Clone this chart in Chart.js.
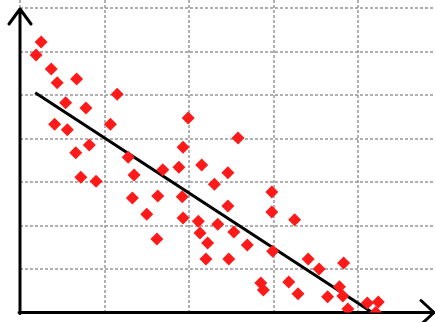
<!DOCTYPE html>
<html>
<head>
<meta charset="utf-8">
<script src="https://cdn.jsdelivr.net/npm/chart.js@4/dist/chart.umd.min.js"></script>
<style>
  html, body { margin: 0; padding: 0; background: #fff; }
  canvas { display: block; }
</style>
</head>
<body>
<canvas id="c" width="435" height="322"></canvas>
<script>
// scatter values (grid units)
const xs = [0.25, 0.19, 0.37, 0.44, 0.67, 1.15, 0.54, 0.78, 0.41, 0.56,
            1.07, 1.99, 0.82, 0.66, 1.93, 2.58, 0.72, 0.90, 1.28, 1.35,
            1.69, 1.88, 2.15, 2.30, 2.46, 1.33, 1.63, 1.92, 1.50, 1.93,
            2.11, 2.34, 2.46, 2.13, 2.22, 1.62, 2.20, 2.47, 2.53, 2.98,
            2.98, 3.25, 2.69, 2.99, 3.41, 3.54, 3.83, 2.85, 2.88, 3.18,
            3.29, 3.78, 3.64, 3.82, 3.88, 4.11, 4.24, 4.21];
const ys = [6.22, 5.92, 5.60, 5.28, 5.37, 5.02, 4.82, 4.70, 4.33, 4.20,
            4.33, 4.47, 3.85, 3.67, 3.80, 4.01, 3.11, 3.02, 3.57, 3.16,
            3.28, 3.34, 3.39, 2.95, 3.21, 2.63, 2.68, 2.66, 2.26, 2.17,
            2.10, 2.03, 2.45, 1.83, 1.60, 1.69, 1.23, 1.23, 1.85, 2.77,
            2.31, 2.13, 1.55, 1.41, 1.23, 1.00, 1.14, 0.68, 0.52, 0.70,
            0.43, 0.59, 0.36, 0.38, 0.08, 0.22, 0.24, 0.00];

// fitted line end points
const fitX = [0.18, 4.17];
const fitY = [5.05, 0.00];

// grid positions
const xTicks = [0, 1, 2, 3, 4];
const yTicks = [0, 1, 2, 3, 4, 5, 6, 7];

const points = xs.map((x, i) => ({ x: x, y: ys[i] }));
const fitLine = fitX.map((x, i) => ({ x: x, y: fitY[i] }));

// black axes with open arrow heads
const arrowAxes = {
    id: 'arrowAxes',
    beforeDatasetsDraw(chart) {
        const ctx = chart.ctx;
        const x0 = chart.scales.x.getPixelForValue(0);
        const y0 = chart.scales.y.getPixelForValue(0);
        ctx.save();
        ctx.strokeStyle = '#000';
        ctx.lineWidth = 3;
        ctx.lineCap = 'round';
        ctx.lineJoin = 'round';
        ctx.beginPath();
        ctx.moveTo(x0, y0 + 1);
        ctx.lineTo(x0, 9);
        ctx.moveTo(x0 - 11, 24);
        ctx.lineTo(x0, 9);
        ctx.lineTo(x0 + 11, 24);
        ctx.moveTo(x0 - 1, y0);
        ctx.lineTo(434, y0);
        ctx.moveTo(421, y0 - 12);
        ctx.lineTo(434, y0);
        ctx.lineTo(421, y0 + 12);
        ctx.stroke();
        ctx.restore();
    }
};

new Chart(document.getElementById('c'), {
    type: 'scatter',
    data: {
        datasets: [
            {
                data: points,
                pointStyle: 'rectRot',
                pointRadius: 6.5,
                pointBackgroundColor: '#ff1a1a',
                pointBorderWidth: 0,
                order: 1
            },
            {
                type: 'line',
                data: fitLine,
                borderColor: '#000',
                borderWidth: 3,
                pointRadius: 0,
                fill: false,
                order: 2
            }
        ]
    },
    options: {
        responsive: false,
        animation: false,
        events: [],
        layout: { autoPadding: false, padding: { left: 20, right: 0, top: 0, bottom: 9.5 } },
        plugins: {
            legend: { display: false },
            tooltip: { enabled: false }
        },
        scales: {
            x: {
                type: 'linear',
                min: 0,
                max: 4.911,
                afterBuildTicks: s => { s.ticks = xTicks.map(v => ({ value: v })); },
                ticks: { display: false },
                grid: { color: 'rgba(150,150,150,0.75)', lineWidth: 2, drawTicks: false },
                border: { display: false, dash: [3, 2] }
            },
            y: {
                type: 'linear',
                min: 0,
                max: 7.184,
                afterBuildTicks: s => { s.ticks = yTicks.map(v => ({ value: v })); },
                ticks: { display: false },
                grid: { color: 'rgba(150,150,150,0.75)', lineWidth: 2, drawTicks: false },
                border: { display: false, dash: [3, 2] }
            }
        }
    },
    plugins: [arrowAxes]
});
</script>
</body>
</html>
